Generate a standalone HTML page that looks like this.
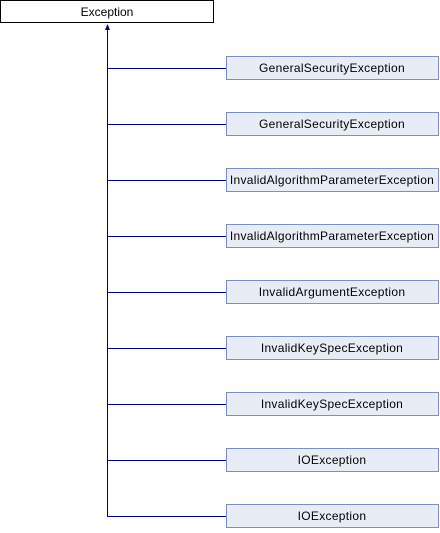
<!DOCTYPE html>
<html><head><style>body{margin:0;background:#fff}</style></head><body>
<svg width="440" height="528" xmlns="http://www.w3.org/2000/svg" font-family="Liberation Sans, sans-serif" font-size="12">
<rect x="0.5" y="0.5" width="213" height="22" fill="#fff" stroke="#000"/>
<text x="107" y="16" text-anchor="middle">Exception</text>
<line x1="107.5" y1="28" x2="107.5" y2="516" stroke="#000080"/>
<polygon points="107.5,24 105,30 110,30" fill="#000080"/>
<g stroke="#000080">
<line x1="107" y1="68.5" x2="226" y2="68.5"/><line x1="107" y1="124.5" x2="226" y2="124.5"/>
<line x1="107" y1="180.5" x2="226" y2="180.5"/><line x1="107" y1="236.5" x2="226" y2="236.5"/>
<line x1="107" y1="292.5" x2="226" y2="292.5"/><line x1="107" y1="348.5" x2="226" y2="348.5"/>
<line x1="107" y1="404.5" x2="226" y2="404.5"/><line x1="107" y1="460.5" x2="226" y2="460.5"/>
<line x1="107" y1="516.5" x2="226" y2="516.5"/>
</g>
<g fill="#e8ecf5" stroke="#7b8fc8">
<rect x="226.5" y="56.5" width="212" height="23"/><rect x="226.5" y="112.5" width="212" height="23"/>
<rect x="226.5" y="168.5" width="212" height="23"/><rect x="226.5" y="224.5" width="212" height="23"/>
<rect x="226.5" y="280.5" width="212" height="23"/><rect x="226.5" y="336.5" width="212" height="23"/>
<rect x="226.5" y="392.5" width="212" height="23"/><rect x="226.5" y="448.5" width="212" height="23"/>
<rect x="226.5" y="504.5" width="212" height="23"/>
</g>
<g text-anchor="middle" style="letter-spacing:0.3px">
<text x="332" y="72">GeneralSecurityException</text>
<text x="332" y="128">GeneralSecurityException</text>
<text x="332" y="184">InvalidAlgorithmParameterException</text>
<text x="332" y="240">InvalidAlgorithmParameterException</text>
<text x="332" y="296">InvalidArgumentException</text>
<text x="332" y="352">InvalidKeySpecException</text>
<text x="332" y="408">InvalidKeySpecException</text>
<text x="332" y="464">IOException</text>
<text x="332" y="520">IOException</text>
</g>
</svg>
</body></html>
